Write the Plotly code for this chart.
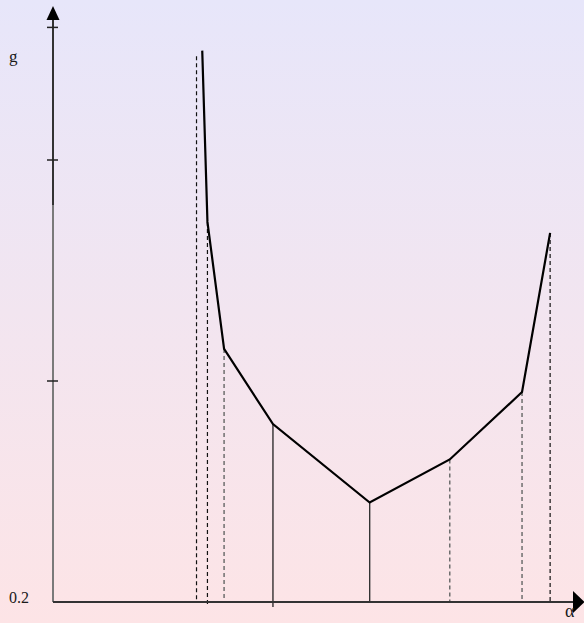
import plotly.graph_objects as go

# g(α) curve: break points of the piecewise-linear function
alpha = [2.87, 2.97, 3.29, 4.23, 6.09, 7.63, 9.02, 9.56]
g_val = [0.699, 0.544, 0.429, 0.361, 0.290, 0.329, 0.390, 0.534]

# extra dashed guide left of the curve (α, top g)
guide_alpha = [2.76]
guide_top = [0.694]

# guide line style per break point (index into alpha)
guide_style = ["", "dash_k", "dash_g", "solid_k", "solid_d", "dash_g", "dash_g", "dash_k"]

y_ticks = [0.4, 0.6, 0.72]
G0 = 0.2             # value at the horizontal axis
X_MIN, X_MAX = -1.0192, 10.2115
Y_MIN, Y_MAX = 0.1810, 0.7448
PX_X = (X_MAX - X_MIN) / 584   # data units per pixel
PX_Y = (Y_MAX - Y_MIN) / 623

TOP_COL = "#E7E6FA"
BOT_COL = "#FDE4E6"

fig = go.Figure()

# gradient background
fig.add_trace(go.Scatter(
    x=[X_MIN, X_MAX, X_MAX, X_MIN, X_MIN],
    y=[Y_MIN, Y_MIN, Y_MAX, Y_MAX, Y_MIN],
    mode="none", fill="toself",
    fillgradient=dict(type="vertical", colorscale=[[0, BOT_COL], [1, TOP_COL]]),
    hoverinfo="skip", showlegend=False,
))

styles = {
    "dash_k": dict(color="#111111", width=1.2, dash="4px,3px"),
    "dash_g": dict(color="#6e6e6e", width=1.5, dash="4px,3px"),
    "solid_k": dict(color="#111111", width=1.2),
    "solid_d": dict(color="#333333", width=1.4),
}

# vertical guides from the curve down to the axis
for a, gv, st in zip(alpha, g_val, guide_style):
    if not st:
        continue
    bottom = G0 - 5 * PX_Y if st in ("dash_k", "solid_k") and a < 5 else G0
    fig.add_trace(go.Scatter(x=[a, a], y=[gv, bottom], mode="lines",
                             line=styles[st], hoverinfo="skip", showlegend=False))
for a, top in zip(guide_alpha, guide_top):
    fig.add_trace(go.Scatter(x=[a, a], y=[top, G0], mode="lines",
                             line=styles["dash_k"], hoverinfo="skip", showlegend=False))

# the curve
fig.add_trace(go.Scatter(x=alpha, y=g_val, mode="lines",
                         line=dict(color="#000000", width=2.2),
                         hoverinfo="skip", showlegend=False))

shapes = []
# axes
y_top = G0 + 582 * PX_Y
y_split = G0 + 397 * PX_Y
shapes.append(dict(type="line", x0=0, x1=0, y0=G0, y1=y_split,
                   line=dict(color="#7a7a7a", width=2)))
shapes.append(dict(type="line", x0=0, x1=0, y0=y_split, y1=y_top,
                   line=dict(color="#333333", width=2)))
x_end = 520 * PX_X
shapes.append(dict(type="line", x0=0, x1=x_end, y0=G0, y1=G0,
                   line=dict(color="#333333", width=2)))
# arrow heads
hw, hh = 6.5 * PX_X, 14 * PX_Y
shapes.append(dict(type="path",
                   path=f"M {-hw} {y_top} L {hw} {y_top} L 0 {y_top + hh} Z",
                   fillcolor="#000000", line=dict(width=0)))
aw, ah = 11.5 * PX_X, 11 * PX_Y
shapes.append(dict(type="path",
                   path=f"M {x_end} {G0 - ah} L {x_end} {G0 + ah} L {x_end + aw} {G0} Z",
                   fillcolor="#000000", line=dict(width=0)))
# y ticks
for t in y_ticks:
    shapes.append(dict(type="line", x0=-6 * PX_X, x1=5 * PX_X, y0=t, y1=t,
                       line=dict(color="#222222", width=1.5)))

fig.update_layout(shapes=shapes)

font = dict(family="Liberation Serif, Times New Roman, serif", color="#1a1a1a")
fig.add_annotation(x=-40 * PX_X, y=G0 + 546 * PX_Y, text="g", showarrow=False,
                   font=dict(size=17, **font))
fig.add_annotation(x=-34.5 * PX_X, y=G0 + 5 * PX_Y, text="0.2", showarrow=False,
                   font=dict(size=16, **font))
fig.add_annotation(x=517 * PX_X, y=G0 - 9 * PX_Y, text="α", showarrow=False,
                   font=dict(size=18, **font))

fig.update_layout(
    width=584, height=623,
    margin=dict(l=0, r=0, t=0, b=0),
    paper_bgcolor=BOT_COL, plot_bgcolor=BOT_COL,
    xaxis=dict(range=[X_MIN, X_MAX], visible=False, fixedrange=True),
    yaxis=dict(range=[Y_MIN, Y_MAX], visible=False, fixedrange=True),
    showlegend=False,
)

fig.write_html("out.html")
